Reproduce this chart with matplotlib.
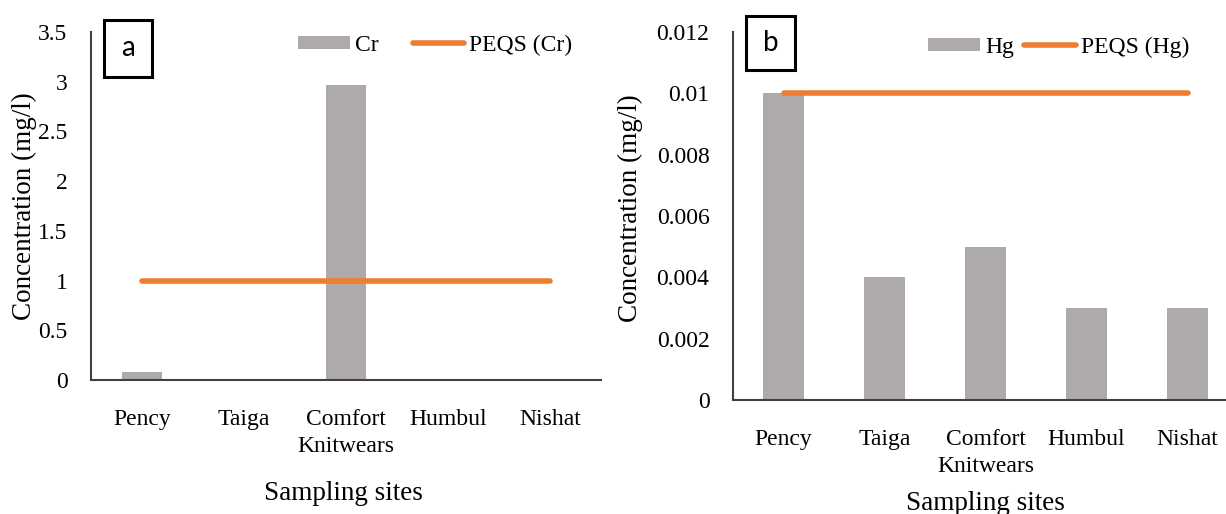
import matplotlib
matplotlib.use("Agg")
import matplotlib.pyplot as plt
from matplotlib.patches import Patch, Rectangle
from matplotlib.lines import Line2D

sites = ["Pency", "Taiga", "Comfort\nKnitwears", "Humbul", "Nishat"]
cr_values = [0.08, 0.0, 2.97, 0.0, 0.0]
cr_peqs = [1, 1, 1, 1, 1]
hg_values = [0.010, 0.004, 0.005, 0.003, 0.003]
hg_peqs = [0.01, 0.01, 0.01, 0.01, 0.01]

cr_ticks = [0, 0.5, 1, 1.5, 2, 2.5, 3, 3.5]
cr_ticklabels = ["0", "0.5", "1", "1.5", "2", "2.5", "3", "3.5"]
hg_ticks = [0, 0.002, 0.004, 0.006, 0.008, 0.01, 0.012]
hg_ticklabels = ["0", "0.002", "0.004", "0.006", "0.008", "0.01", "0.012"]

BAR = "#AEAAAA"
LINE = "#ED7D31"
SERIF = ["Liberation Serif", "DejaVu Serif"]
SANS = ["Lato", "DejaVu Sans"]
TICK_FS = 17
TITLE_FS = 19.5

W, H = 1226, 514
fig = plt.figure(figsize=(W / 100, H / 100), dpi=100)


def fx(px):
    return px / W


def fy(py):
    return 1 - py / H


def panel(axis_px, values, peqs, ticks, ticklabels, ymax, name, letter,
          letter_box, legend_px, colspace, xlabel_px, ylabel_px, xtick_pad):
    x0, y0, x1, y1 = axis_px
    ax = fig.add_axes([fx(x0), fy(y1), (x1 - x0) / W, (y1 - y0) / H])
    x = list(range(len(sites)))
    ax.bar(x, values, width=0.4, color=BAR, zorder=2)
    ax.plot(x, peqs, color=LINE, lw=4, solid_capstyle="round", zorder=3)
    ax.set_xlim(-0.5, len(sites) - 0.5)
    ax.set_ylim(0, ymax)
    ax.set_yticks(ticks)
    ax.set_yticklabels(ticklabels, family=SERIF, fontsize=TICK_FS)
    ax.set_xticks(x)
    ax.set_xticklabels(sites, family=SERIF, fontsize=TICK_FS, linespacing=1.38)
    ax.tick_params(axis="both", length=0)
    ax.tick_params(axis="y", pad=17)
    ax.tick_params(axis="x", pad=xtick_pad)
    for s in ("top", "right"):
        ax.spines[s].set_visible(False)
    for s in ("left", "bottom"):
        ax.spines[s].set_color("#404040")
        ax.spines[s].set_linewidth(1.5)

    handles = [Patch(facecolor=BAR, edgecolor="none"),
               Line2D([0], [0], color=LINE, lw=4, solid_capstyle="round")]
    lx, ly = legend_px
    fig.legend(handles, [name, f"PEQS ({name})"], loc="center left",
               bbox_to_anchor=(fx(lx), fy(ly)), bbox_transform=fig.transFigure,
               ncol=2, frameon=False, prop={"family": SERIF, "size": TICK_FS},
               handlelength=2.2, handleheight=0.45, columnspacing=colspace,
               handletextpad=0.21, borderpad=0, borderaxespad=0)

    bx0, by0, bx1, by1 = letter_box
    fig.patches.append(Rectangle((fx(bx0), fy(by1)), (bx1 - bx0) / W,
                                 (by1 - by0) / H, transform=fig.transFigure,
                                 fill=False, ec="black", lw=2.2))
    fig.text(fx((bx0 + bx1) / 2), fy((by0 + by1) / 2), letter,
             ha="center", va="center", fontsize=20, family=SANS)

    fig.text(fx(xlabel_px[0]), fy(xlabel_px[1]), "Sampling sites",
             ha="center", va="center", family=SERIF, fontsize=TITLE_FS)
    fig.text(fx(ylabel_px[0]), fy(ylabel_px[1]), "Concentration (mg/l)",
             ha="center", va="center", rotation=90, family=SERIF,
             fontsize=TITLE_FS)
    return ax


panel((91, 32, 601, 380), cr_values, cr_peqs, cr_ticks, cr_ticklabels, 3.5,
      "Cr", "a", (104, 20, 152, 77), (298, 45), 1.44, (343, 494), (24, 206), 21)
panel((733, 32, 1238, 400), hg_values, hg_peqs, hg_ticks, hg_ticklabels, 0.012,
      "Hg", "b", (746, 16, 795, 70), (928, 47), 0.42, (985, 503), (630, 208), 21)

fig.savefig("out.png", dpi=100)
